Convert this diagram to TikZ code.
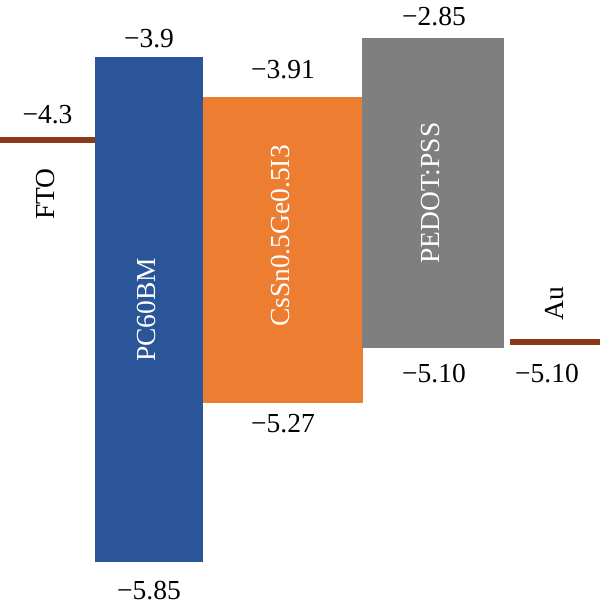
\documentclass[tikz,border=0pt]{standalone}
\usepackage{fontspec}
\setmainfont{Liberation Serif}
\definecolor{pcblue}{HTML}{2A5599}
\definecolor{csorange}{HTML}{ED7D31}
\definecolor{pedgray}{HTML}{7F7F7F}
\definecolor{elbrown}{HTML}{8B3A17}
\tikzset{
  layer/.style={draw=none, inner sep=0pt, outer sep=0pt, anchor=north west},
  val/.style={inner sep=0pt, font=\fontsize{27.5}{32}\selectfont, text=black},
  inlab/.style={inner sep=0pt, rotate=90, font=\fontsize{27.5}{32}\selectfont, text=white},
  outlab/.style={inner sep=0pt, rotate=90, font=\fontsize{27.5}{32}\selectfont, text=black},
  level/.style={draw=elbrown, line width=5.5pt}
}
\begin{document}
\begin{tikzpicture}[x=1pt, y=-1pt]
\useasboundingbox (0,0) rectangle (600,610);
% layers
\node[layer, fill=pcblue, minimum width=108pt, minimum height=505pt] (pcbm) at (95,57) {};
\node[layer, fill=csorange, minimum width=160pt, minimum height=306pt] (cs) at (203,97) {};
\node[layer, fill=pedgray, minimum width=142pt, minimum height=310pt] (ped) at (362,38) {};
% electrode levels
\coordinate (ftoL) at (0,140);
\coordinate (ftoR) at (95,140);
\coordinate (auL) at (510,342);
\coordinate (auR) at (600,342);
\draw[level] (ftoL) -- (ftoR);
\draw[level] (auL) -- (auR);
% inner labels
\node[inlab] (pcbmlab) at (146,310) {PC60BM};
\node[inlab] (cslab) at (281,236) {CsSn0.5Ge0.5I3};
\node[inlab] (pedlab) at (431,193) {PEDOT:PSS};
\node[outlab] (ftolab) at (46,194) {FTO};
\node[outlab] (aulab) at (555,304) {Au};
% values
\node[val] (v1) at (47.5,115) {−4.3};
\node[val] (v2) at (149,39) {−3.9};
\node[val] (v3) at (149,591) {−5.85};
\node[val] (v4) at (283,70) {−3.91};
\node[val] (v5) at (283,424) {−5.27};
\node[val] (v6) at (434,16.5) {−2.85};
\node[val] (v7) at (434,374) {−5.10};
\node[val] (v8) at (547,374) {−5.10};
\end{tikzpicture}
\end{document}
